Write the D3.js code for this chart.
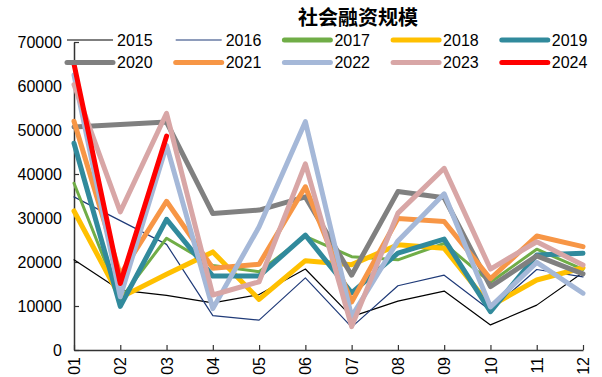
<!DOCTYPE html>
<html>
<head>
<meta charset="utf-8">
<script src="https://cdn.jsdelivr.net/npm/d3@7/dist/d3.min.js"></script>
<style>
body { margin: 0; background: #fff; }
svg { display: block; }
</style>
</head>
<body>
<svg id="chart" width="602" height="377"></svg>
<script>
// months on the x axis
const months = ['01', '02', '03', '04', '05', '06', '07', '08', '09', '10', '11', '12']
const years = ['2015', '2016', '2017', '2018', '2019', '2020', '2021', '2022', '2023', '2024']
const yTicks = [0, 10000, 20000, 30000, 40000, 50000, 60000, 70000]

// monthly values (亿元), null = no point for that month
const v2015 = [20500, 13600, 12400, 10700, 12600, 18400, 7600, 11100, 13400, 5700, 10200, 17600]
const v2016 = [34800, null, 24000, 7800, 6800, 16400, 5200, 14600, 17000, 9000, 18300, 16600]
const v2017 = [37900, 11500, 25400, 19200, 17800, 25800, 21200, 20500, 24200, 15400, 22900, 18300]
const v2018 = [31600, 11900, 17200, 22300, 11500, 20300, 19400, 23900, 23100, 10000, 15900, 18700]
const v2019 = [47000, 9900, 29700, 16800, 16800, 26100, 13000, 22000, 25200, 8700, 21600, 22000]
const v2020 = [50700, null, 51800, 31000, 31800, 34800, 17000, 36000, 34600, 14400, 21400, 17300]
const v2021 = [52000, 17100, 33800, 18600, 19500, 37100, 10900, 29900, 29200, 16200, 25900, 23500]
const v2022 = [62500, 12100, 46500, 9400, 28000, 51900, 7600, 24800, 35500, 9800, 19900, 12900]
const v2023 = [60300, 31400, 53800, 12500, 15500, 42300, 5300, 31100, 41300, 18400, 24600, 19300]
const v2024 = [65000, 15100, 48600, null, null, null, null, null, null, null, null, null]

const values = [v2015, v2016, v2017, v2018, v2019, v2020, v2021, v2022, v2023, v2024]
const colors = ['#000000', '#1f3a78', '#70ad47', '#ffc000', '#318a9c', '#808080', '#f79646', '#a5b8d8', '#d8a6a6', '#ff0000']
const widths = [1.2, 1.2, 3, 5, 5, 5, 5, 5, 5, 5]

const svg = d3.select('#chart')
const numFont = '"Liberation Sans", Arial, sans-serif'

const x = d3.scalePoint().domain(months).range([74, 583])
const y = d3.scaleLinear().domain([0, 70000]).range([350, 42])

// title
svg.append('text')
	.attr('x', 358)
	.attr('y', 25)
	.attr('text-anchor', 'middle')
	.style('font-family', '"Noto Sans CJK SC", sans-serif')
	.style('font-weight', 'bold')
	.style('font-size', '20px')
	.text('社会融资规模')

// y axis
const yAxis = svg.append('g')
	.attr('transform', 'translate(' + x(months[0]) + ',0)')
	.call(d3.axisLeft(y).tickValues(yTicks).tickFormat(d3.format('d')).tickSizeInner(-5).tickSizeOuter(0).tickPadding(12))
yAxis.select('.domain').attr('stroke', '#333').attr('stroke-width', 1.5)
yAxis.selectAll('.tick line').attr('stroke', '#333').attr('stroke-width', 1.2)
yAxis.selectAll('.tick text')
	.attr('fill', '#000')
	.style('font-family', numFont)
	.style('font-size', '16px')

// x axis
const xAxis = svg.append('g')
	.attr('transform', 'translate(0,' + y(0) + ')')
	.call(d3.axisBottom(x).tickSizeInner(-5).tickSizeOuter(0).tickPadding(0))
xAxis.select('.domain').attr('stroke', '#333').attr('stroke-width', 1.5)
xAxis.selectAll('.tick line').attr('stroke', '#333').attr('stroke-width', 1.2)
xAxis.selectAll('.tick text')
	.attr('fill', '#000')
	.attr('transform', 'translate(0,7) rotate(-90)')
	.attr('x', 0)
	.attr('y', 0)
	.attr('dy', '0.35em')
	.attr('text-anchor', 'end')
	.style('font-family', numFont)
	.style('font-size', '16px')

// lines, missing months are skipped and the neighbours joined
const line = d3.line()
	.x(d => x(d.m))
	.y(d => y(d.v))

const plot = svg.append('g')
years.forEach((yr, i) => {
	const pts = months.map((m, j) => ({ m: m, v: values[i][j] })).filter(d => d.v !== null)
	plot.append('path')
		.datum(pts)
		.attr('fill', 'none')
		.attr('stroke', colors[i])
		.attr('stroke-width', widths[i])
		.attr('stroke-linejoin', 'round')
		.attr('stroke-linecap', 'round')
		.attr('d', line)
})

// legend, two rows of five
const legend = svg.append('g')
years.forEach((yr, i) => {
	const col = i % 5, row = Math.floor(i / 5)
	const lx = 67 + col * 108.7
	const ly = 40 + row * 22.5
	legend.append('line')
		.attr('x1', lx).attr('x2', lx + 46)
		.attr('y1', ly).attr('y2', ly)
		.attr('stroke', colors[i])
		.attr('stroke-width', widths[i] < 2 ? 1.2 : 5)
		.attr('stroke-linecap', widths[i] < 2 ? 'butt' : 'round')
	legend.append('text')
		.attr('x', lx + 50)
		.attr('y', ly)
		.attr('dy', '0.36em')
		.style('font-family', numFont)
		.style('font-size', '16px')
		.text(yr)
})
</script>
</body>
</html>
